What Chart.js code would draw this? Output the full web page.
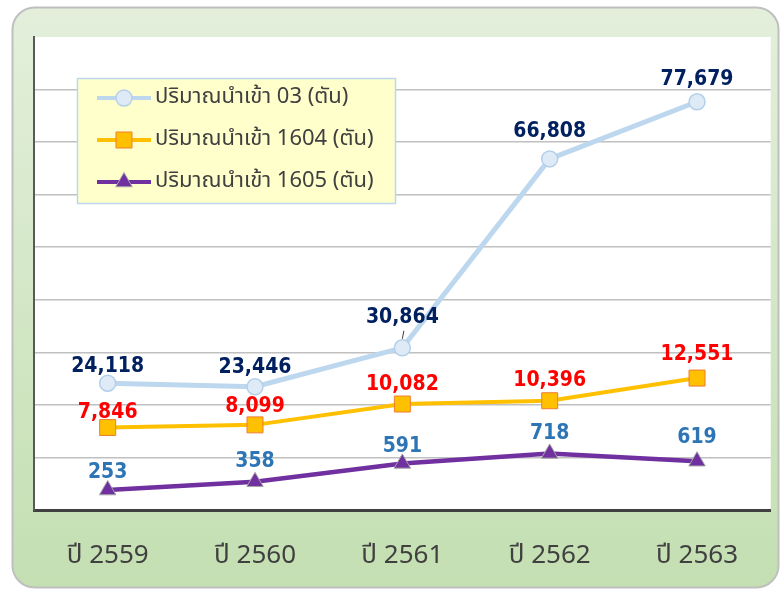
<!DOCTYPE html>
<html>
<head>
<meta charset="utf-8">
<script src="https://cdn.jsdelivr.net/npm/chart.js@4/dist/chart.umd.min.js"></script>
<style>
  html, body { margin: 0; padding: 0; background: #ffffff; }
  #wrap { width: 783px; height: 590px; }
</style>
</head>
<body>
<div id="wrap"><canvas id="importChart" width="783" height="590"></canvas></div>
<script>
// Import volumes by year (tonnes)
const years = ['ปี 2559', 'ปี 2560', 'ปี 2561', 'ปี 2562', 'ปี 2563'];
const import03 = [24118, 23446, 30864, 66808, 77679];
const import1604 = [7846, 8099, 10082, 10396, 12551];
const import1605 = [253, 358, 591, 718, 619];
const seriesNames = [
    'ปริมาณนำเข้า 03 (ตัน)',
    'ปริมาณนำเข้า 1604 (ตัน)',
    'ปริมาณนำเข้า 1605 (ตัน)'
];

const thaiFont = "Tahoma, 'Noto Sans Thai', 'Noto Sans', 'DejaVu Sans', sans-serif";
const numFont = "'DejaVu Sans', sans-serif";

// Green rounded panel behind the chart, white plot area on top
const panelPlugin = {
    id: 'panel',
    beforeDraw(chart) {
        const ctx = chart.ctx;
        const area = chart.chartArea;
        ctx.save();
        const grad = ctx.createLinearGradient(0, 7, 0, 588);
        grad.addColorStop(0, '#e3efdb');
        grad.addColorStop(1, '#c4dfb2');
        ctx.beginPath();
        ctx.roundRect(12.5, 7.5, 766, 580, 22);
        ctx.fillStyle = grad;
        ctx.fill();
        ctx.lineWidth = 2;
        ctx.strokeStyle = '#bfbfbf';
        ctx.stroke();
        ctx.fillStyle = '#ffffff';
        ctx.fillRect(area.left, area.top, area.right - area.left, area.bottom - area.top);
        ctx.restore();
    }
};

// Value labels above each point (distance above the marker, px)
const labelColors = ['#002060', '#ff0000', '#2e75b6'];
const labelLift = [
    [17, 19, 30, 27, 22],
    [15, 18, 19, 20, 24],
    [18, 20, 17, 20, 24]
];
const valueLabelPlugin = {
    id: 'valueLabels',
    afterDatasetsDraw(chart) {
        const ctx = chart.ctx;
        ctx.save();
        ctx.font = 'bold 21px ' + numFont;
        if ('fontStretch' in ctx) ctx.fontStretch = 'condensed';
        ctx.textAlign = 'center';
        ctx.textBaseline = 'middle';
        chart.data.datasets.forEach((ds, i) => {
            const meta = chart.getDatasetMeta(i);
            ctx.fillStyle = labelColors[i];
            meta.data.forEach((pt, j) => {
                ctx.fillText(ds.data[j].toLocaleString('en-US'), pt.x, pt.y - labelLift[i][j]);
            });
        });
        // short leader under the 2561 label of the first series
        const p = chart.getDatasetMeta(0).data[2];
        ctx.beginPath();
        ctx.moveTo(p.x, p.y - 9);
        ctx.lineTo(p.x + 1.5, p.y - 17);
        ctx.lineWidth = 1;
        ctx.strokeStyle = '#404040';
        ctx.stroke();
        ctx.restore();
    }
};

// Legend box floating inside the plot
const boxLegendPlugin = {
    id: 'boxLegend',
    afterDraw(chart) {
        const ctx = chart.ctx;
        const box = { x: 77.5, y: 78.5, w: 318, h: 125 };
        ctx.save();
        ctx.fillStyle = '#ffffcc';
        ctx.fillRect(box.x, box.y, box.w, box.h);
        ctx.lineWidth = 1.5;
        ctx.strokeStyle = '#bdd7ee';
        ctx.strokeRect(box.x, box.y, box.w, box.h);

        ctx.font = '22px ' + thaiFont;
        ctx.textBaseline = 'middle';
        chart.data.datasets.forEach((ds, i) => {
            const y = 98 + i * 42;
            ctx.beginPath();
            ctx.moveTo(97, y);
            ctx.lineTo(151, y);
            ctx.lineWidth = 4;
            ctx.strokeStyle = ds.borderColor;
            ctx.stroke();
            ctx.fillStyle = ds.pointBackgroundColor;
            ctx.strokeStyle = ds.pointBorderColor;
            ctx.lineWidth = ds.pointBorderWidth;
            Chart.helpers.drawPoint(ctx, {
                pointStyle: ds.pointStyle,
                radius: ds.pointRadius,
                borderWidth: ds.pointBorderWidth,
                rotation: 0
            }, 124, y);
            ctx.fillStyle = '#404040';
            ctx.fillText(ds.label, 155, y + 1);
        });
        ctx.restore();
    }
};

const ctx = document.getElementById('importChart').getContext('2d');
new Chart(ctx, {
    type: 'line',
    data: {
        labels: years,
        datasets: [{
            label: seriesNames[0],
            data: import03,
            yAxisID: 'y',
            borderColor: '#bdd7ee',
            borderWidth: 5,
            pointStyle: 'circle',
            pointRadius: 8,
            pointBackgroundColor: '#deebf7',
            pointBorderColor: '#b4cfea',
            pointBorderWidth: 1.5
        }, {
            label: seriesNames[1],
            data: import1604,
            yAxisID: 'y2',
            borderColor: '#ffc000',
            borderWidth: 4,
            pointStyle: 'rect',
            pointRadius: 11.3,
            pointBackgroundColor: '#ffc000',
            pointBorderColor: '#ed7d31',
            pointBorderWidth: 1
        }, {
            label: seriesNames[2],
            data: import1605,
            yAxisID: 'y3',
            borderColor: '#7030a0',
            borderWidth: 4.5,
            pointStyle: 'triangle',
            pointRadius: 9.5,
            pointBackgroundColor: '#7030a0',
            pointBorderColor: '#a5a5a5',
            pointBorderWidth: 1
        }]
    },
    options: {
        responsive: false,
        devicePixelRatio: 1,
        animation: false,
        layout: { padding: { left: 34, top: 37, right: 9, bottom: 0 } },
        plugins: {
            legend: { display: false },
            tooltip: { enabled: false }
        },
        scales: {
            x: {
                offset: true,
                grid: { display: false, drawTicks: false },
                border: { display: true, color: '#404040', width: 3 },
                ticks: {
                    color: '#404040',
                    font: { family: thaiFont, size: 26 },
                    padding: 32
                },
                afterFit(scale) { scale.height = 80; }
            },
            y: {
                min: 0,
                max: 90000,
                ticks: { display: false, stepSize: 10000 },
                grid: {
                    drawTicks: false,
                    lineWidth: 1.5,
                    color: c => (c.tick.value === 0 || c.tick.value === 90000) ? 'rgba(0,0,0,0)' : '#c0c0c0'
                },
                border: { display: true, color: '#595959', width: 2 },
                afterFit(scale) { scale.width = 0; }
            },
            y2: { display: false, min: 0, max: 45000 },
            y3: { display: false, min: 0, max: 6000 }
        }
    },
    plugins: [panelPlugin, valueLabelPlugin, boxLegendPlugin]
});
</script>
</body>
</html>
